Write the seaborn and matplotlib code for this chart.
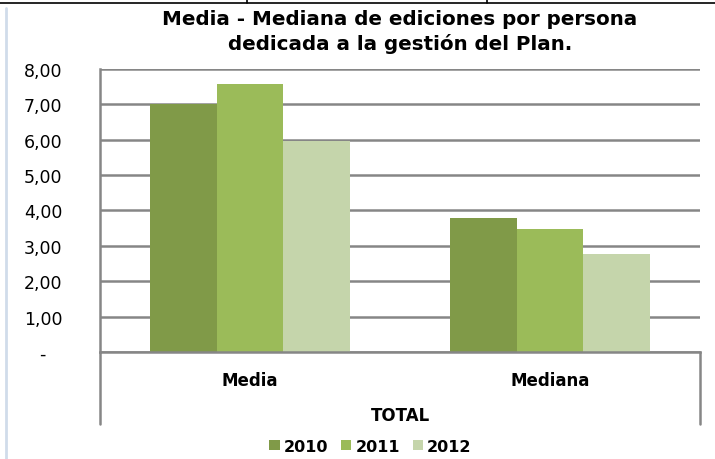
import matplotlib
matplotlib.use('Agg')
import matplotlib.pyplot as plt
import seaborn as sns
import pandas as pd
from matplotlib.lines import Line2D

# Data
categories = ['Media', 'Mediana']
years = ['2010', '2011', '2012']
values_2010 = [7.00, 3.78]
values_2011 = [7.56, 3.48]
values_2012 = [5.96, 2.78]
y_ticks = [0, 1, 2, 3, 4, 5, 6, 7, 8]
colors = ['#809A48', '#9BBB59', '#C5D5AB']

rows = []
for yr, vals in zip(years, [values_2010, values_2011, values_2012]):
    for cat, v in zip(categories, vals):
        rows.append({'categoria': cat, 'anio': yr, 'valor': v})
df = pd.DataFrame(rows)

sns.set_style('white')
plt.rcParams['font.family'] = ['DejaVu Sans']
plt.rcParams['text.color'] = 'black'
plt.rcParams['xtick.color'] = 'black'
plt.rcParams['ytick.color'] = 'black'
plt.rcParams['axes.labelcolor'] = 'black'

grid_col = '#868686'
fig = plt.figure(figsize=(7.15, 4.6), dpi=100)
ax = fig.add_axes([0.140, 0.2326, 0.839, 0.6154])

sns.barplot(data=df, x='categoria', y='valor', hue='anio', order=categories,
            hue_order=years, palette=colors, width=0.667, saturation=1,
            edgecolor='none', ax=ax)
ax.get_legend().remove()

ax.set_ylim(0, 8)
ax.set_xlim(-0.5, 1.5)
ax.set_yticks(y_ticks)
ax.set_yticklabels(['-   ' if t == 0 else f'{t:.2f}'.replace('.', ',') for t in y_ticks],
                   fontsize=12.5)
ax.yaxis.grid(True, color=grid_col, linewidth=1.8)
ax.set_axisbelow(True)
ax.tick_params(axis='both', length=0)
ax.tick_params(axis='y', pad=27)
ax.set_xticks([0, 1])
ax.set_xticklabels(categories, fontsize=12, fontweight='bold')
ax.tick_params(axis='x', pad=14)
ax.set_xlabel('TOTAL', fontsize=12, fontweight='bold', labelpad=12)
ax.set_ylabel('')

for side in ['top', 'right']:
    ax.spines[side].set_visible(False)
for side in ['left', 'bottom']:
    ax.spines[side].set_color(grid_col)
    ax.spines[side].set_linewidth(1.8)
    ax.spines[side].set_zorder(3)

# category axis box extensions below the plot
ext = -72 / 283
for xpos in [0, 1]:
    ax.add_line(Line2D([xpos, xpos], [0, ext], transform=ax.transAxes,
                       color=grid_col, lw=1.8, clip_on=False))

ax.set_title('Media - Mediana de ediciones por persona\ndedicada a la gestión del Plan.',
             fontsize=14.3, fontweight='bold', pad=14, linespacing=1.35)

handles, labels = ax.get_legend_handles_labels()
fig.legend(handles, labels, loc='center', bbox_to_anchor=(0.518, 0.028), ncol=3,
           frameon=False, prop={'size': 11.5, 'weight': 'bold'},
           handlelength=0.65, handleheight=0.65, handletextpad=0.25,
           columnspacing=0.8)

# sheet decorations around the chart
fig.add_artist(Line2D([0, 1], [0.991, 0.991], color='black', lw=1.2))
for xf in [247 / 715, 487 / 715]:
    fig.add_artist(Line2D([xf, xf], [0.991, 1], color='black', lw=1.2))
fig.add_artist(Line2D([6 / 715, 6 / 715], [0, 0.98], color='#D0DCEA', lw=2))

fig.savefig('out.png', dpi=100)
